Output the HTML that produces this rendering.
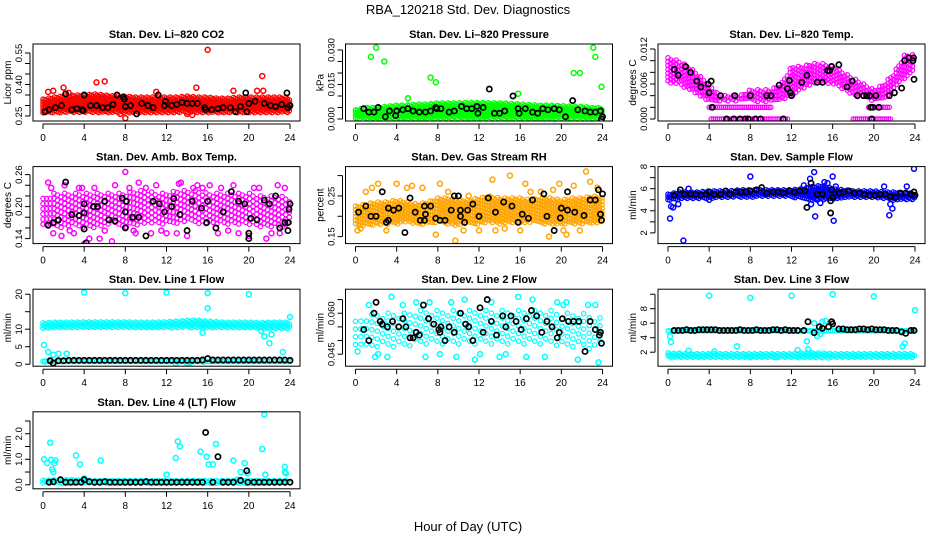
<!DOCTYPE html>
<html><head><meta charset="utf-8"><style>
html,body{margin:0;padding:0;background:#fff}
svg{display:block;font-family:"Liberation Sans",Arial,sans-serif}
</style></head><body>
<svg id="c" width="936" height="540" viewBox="0 0 936 540">
<rect width="936" height="540" fill="#fff"/>
<text x="468" y="14" text-anchor="middle" font-size="13">RBA_120218  Std. Dev. Diagnostics</text>
<text x="468" y="531" text-anchor="middle" font-size="13">Hour of Day (UTC)</text>
</svg>
<script>
// ---------- data ----------
const bandHours=[0,1,2,3,4,5,6,7,8,9,10,11,12,13,14,15,16,17,18,19,20,21,22,23,24];
const xTicks=[0,4,8,12,16,20,24];

const co2Lo=[0.265,0.265,0.265,0.265,0.265,0.265,0.265,0.265,0.265,0.265,0.265,0.265,0.265,0.265,0.265,0.265,0.265,0.265,0.265,0.265,0.265,0.265,0.265,0.265,0.265];
const co2Hi=[0.33,0.34,0.345,0.35,0.35,0.355,0.35,0.345,0.345,0.34,0.34,0.34,0.34,0.34,0.345,0.34,0.34,0.335,0.335,0.34,0.34,0.34,0.34,0.34,0.335];
const co2OutX=[16,21.3,5.2,6,2,7.5,8,14,14.9,20.8,21.4,14.5,0.5,1,11,18.5,2.5];
const co2OutY=[0.565,0.44,0.41,0.415,0.385,0.26,0.24,0.26,0.385,0.37,0.37,0.255,0.365,0.37,0.365,0.37,0.36];
const co2BlkX=[0.2,0.6,1.2,1.8,2.2,2.8,3.3,3.8,4,3.9,4.6,5.2,5.8,6.3,6.8,7.2,7.8,7.9,8,8.5,9.1,9.6,10.2,10.7,11.2,11.8,11.9,12.5,13,13.5,14,14.5,15,15.7,15.8,16.4,17,17.5,18.2,18.7,19.2,19.7,19.8,20,20.6,21.5,22.1,22.6,23.2,23.7,23.8,24];
const co2BlkY=[0.27,0.28,0.29,0.30,0.355,0.28,0.285,0.28,0.35,0.275,0.30,0.30,0.29,0.29,0.305,0.35,0.34,0.33,0.295,0.30,0.26,0.31,0.30,0.29,0.35,0.30,0.32,0.30,0.305,0.315,0.31,0.31,0.31,0.29,0.28,0.28,0.285,0.29,0.29,0.27,0.295,0.36,0.27,0.31,0.32,0.31,0.30,0.295,0.305,0.36,0.29,0.30];

const prsLo=[0,0,0,0,0,0,0,0,0,0,0,0,0,0,0,0,0,0,0,0,0,0,0,0,0];
const prsHi=[0.004,0.005,0.005,0.0055,0.006,0.006,0.0065,0.0065,0.007,0.007,0.007,0.0072,0.0072,0.007,0.007,0.0068,0.0065,0.0062,0.006,0.006,0.0058,0.0055,0.0055,0.005,0.005];
const prsOutX=[1.5,2,2.8,7.3,7.8,5.1,15.8,21.2,21.8,23.1,23.3,23.9,0.3,4.4,3,20.9];
const prsOutY=[0.027,0.031,0.025,0.018,0.016,0.009,0.011,0.020,0.020,0.031,0.027,0.014,0.003,0,0.0005,0];
const prsBlkX=[0.8,1.3,1.8,2.2,2.9,3.3,3.9,4,4.6,5.1,5.6,6.2,6.8,7.3,7.8,7.9,8.3,9.1,9.6,10.3,10.8,11.3,11.8,11.9,12.4,13,13.5,14,14.5,15.3,15.8,15.9,16.5,17.2,17.7,18.2,18.7,19.3,19.8,20.4,21.1,21.6,22.3,22.8,23.3,23.8,23.9,24];
const prsBlkY=[0.0045,0.003,0.003,0.005,0.001,0.0035,0.0015,0.0035,0.004,0.0045,0.0035,0.003,0.003,0.0035,0.005,0.0045,0.0045,0.003,0.0035,0.0055,0.0045,0.0045,0.0055,0.0025,0.005,0.013,0.0025,0.0025,0.0035,0.010,0.0045,0.0025,0.0045,0.003,0.0025,0.0045,0.004,0.0045,0.004,0.001,0.008,0.004,0.0035,0.003,0.003,0.0035,0,0.001];

const tmpLo=[0.006,0.006,0.005,0.004,0.003,0.003,0.003,0.003,0.003,0.003,0.003,0.003,0.004,0.005,0.006,0.006,0.006,0.005,0.004,0.004,0.003,0.003,0.005,0.007,0.008];
const tmpHi=[0.0105,0.010,0.009,0.0075,0.006,0.004,0.004,0.004,0.005,0.005,0.005,0.006,0.009,0.009,0.0095,0.0095,0.009,0.008,0.007,0.006,0.005,0.006,0.008,0.011,0.011];
const tmpRowX0=[4.2,4,18,19.5];
const tmpRowX1=[11.6,10,21.6,21.6];
const tmpRowY=[0,0.002,0,0.002];
const tmpBlkX=[0.6,1,1.7,2.2,2.8,3.2,3.9,4,4.2,4.3,5.1,5.7,6.4,6.5,7,7.5,7.8,8,8.5,9,9.6,10,10.8,11.2,11.6,11.8,11.9,12,13,13.5,14.5,15,15.5,15.7,15.9,16.6,17.4,17.9,18.4,19,19.3,19.6,19.7,19.8,19.9,20.2,20.5,21.5,22,22.7,23,23.4,23.8,23.9,23.85];
const tmpBlkY=[0.0085,0.0075,0.009,0.008,0.0065,0.0055,0.006,0.0045,0.0065,0.002,0.004,0,0,0.004,0,0,0,0.004,0,0,0.004,0.004,0.0058,0,0.0052,0.0066,0.0045,0.004,0.0063,0.0075,0.0063,0.0063,0.0083,0.0083,0.009,0.0093,0.0055,0.0065,0.004,0.004,0.004,0.004,0.002,0,0.002,0.004,0.002,0.004,0.0045,0.0053,0.010,0.0105,0.010,0.0068,0.0105];

const ambLo=[0.16,0.16,0.16,0.165,0.16,0.16,0.165,0.165,0.16,0.165,0.165,0.165,0.165,0.165,0.17,0.165,0.165,0.165,0.165,0.165,0.165,0.16,0.16,0.16,0.165];
const ambHi=[0.215,0.225,0.225,0.225,0.225,0.225,0.225,0.225,0.225,0.23,0.23,0.225,0.225,0.23,0.23,0.23,0.225,0.225,0.225,0.225,0.225,0.22,0.22,0.22,0.215];
const ambOutX=[0.5,2.1,3.8,4,4.5,5.5,8,8.4,7.7,9.3,10.5,13.2,13.4,14.6,17.3,20,21.7,22.8,3,1.8,6.7,16.2,18.5,1,3.5,6,7,9,11,12,14,15,17,19,21,23,0.8,2.6,5,8.8,10,11.5,13,15.5,18,20.5,22.2,23.5];
const ambOutY=[0.245,0.24,0.235,0.13,0.14,0.14,0.265,0.235,0.125,0.245,0.15,0.243,0.245,0.235,0.235,0.145,0.14,0.24,0.15,0.145,0.135,0.24,0.24,0.15,0.235,0.155,0.24,0.15,0.24,0.15,0.145,0.24,0.15,0.15,0.235,0.15,0.235,0.155,0.235,0.155,0.235,0.155,0.15,0.235,0.155,0.235,0.15,0.235];
const ambBlkX=[0.5,1,1.5,2.2,2.8,3.5,4,4,4,4.2,4.9,5.3,6,6.4,7,7.7,8.1,8,8,8.7,9.3,10,10.7,11.3,11.8,12.5,12.7,13.3,14,14.5,15.4,15.9,16,16.8,17.5,18.3,19,19.6,20.2,20,20,20.8,21.5,22,22.6,23,23.5,23.9,24,23.8,23.8];
const ambBlkY=[0.165,0.17,0.175,0.246,0.185,0.183,0.158,0.188,0.205,0.132,0.20,0.200,0.21,0.175,0.173,0.216,0.21,0.16,0.19,0.18,0.18,0.145,0.21,0.205,0.19,0.20,0.215,0.185,0.155,0.21,0.197,0.17,0.21,0.16,0.19,0.228,0.21,0.205,0.178,0.14,0.15,0.175,0.212,0.205,0.22,0.16,0.17,0.195,0.205,0.17,0.155];

const rhLo=[0.18,0.175,0.18,0.18,0.18,0.185,0.18,0.18,0.185,0.18,0.175,0.18,0.18,0.185,0.18,0.185,0.18,0.185,0.18,0.18,0.18,0.18,0.18,0.18,0.185];
const rhHi=[0.225,0.23,0.235,0.235,0.24,0.235,0.23,0.235,0.245,0.245,0.24,0.24,0.245,0.25,0.245,0.245,0.245,0.24,0.245,0.245,0.24,0.245,0.245,0.25,0.245];
const rhOutX=[1.6,2.2,4,5,5.5,8.2,13.3,15,16.5,19.2,19.8,21.2,22.4,22.8,7.8,9.7,13.6,18.8,20.5,23.5,4.5,11,0.5,3,6.5,9,12,14.5,17,20.2,1,10.5,16,18,21.8,0.2];
const rhOutY=[0.27,0.28,0.28,0.27,0.275,0.28,0.29,0.30,0.28,0.265,0.28,0.275,0.31,0.285,0.155,0.14,0.165,0.15,0.155,0.27,0.21,0.25,0.17,0.165,0.27,0.26,0.165,0.17,0.26,0.165,0.26,0.165,0.165,0.26,0.165,0.165];
const rhBlkX=[0.3,1,1.5,2,2.6,3,3.2,3.2,3.7,4.2,4.8,5.3,5.8,6.3,6.7,6.7,6.8,7.3,7.8,8.2,8.7,9.3,9.6,10,10.2,10.2,10.6,10.9,11.4,12,12.9,13.6,14.4,15.2,15.8,16.2,16.8,17.2,18.3,18.6,19.3,19.9,20,20.6,20.6,21.3,22.2,22.8,23.3,23.6,23.8,23.9,24];
const rhBlkY=[0.21,0.225,0.20,0.20,0.26,0.185,0.22,0.19,0.215,0.22,0.16,0.245,0.21,0.19,0.225,0.19,0.205,0.225,0.195,0.19,0.19,0.215,0.25,0.25,0.215,0.20,0.185,0.215,0.23,0.20,0.245,0.21,0.235,0.225,0.185,0.205,0.195,0.24,0.255,0.200,0.165,0.196,0.22,0.215,0.26,0.21,0.202,0.240,0.240,0.265,0.205,0.19,0.255];

const smpLo=[4.9,5.0,5.1,5.1,5.1,5.2,5.2,5.2,5.2,5.3,5.3,5.3,5.2,5.1,4.9,5.0,5.0,5.2,5.2,5.2,5.2,5.1,4.9,5.0,5.0];
const smpHi=[5.5,5.7,5.7,5.7,5.8,5.8,5.8,5.9,5.9,5.9,5.9,5.9,5.9,6.0,6.2,6.3,6.0,5.9,5.8,5.8,5.8,5.7,5.7,5.6,5.6];
const smpOutX=[0.2,0.3,0.5,1.5,2,8,13.2,13.8,14.2,14.3,14.8,15.2,15.5,16,16.1,16.3,21,21.5,21.8,23.2,23.9,4,13.9,14.5,21.6,1];
const smpOutY=[3.3,4.4,4.3,1.3,6.0,7.1,6.3,6.9,7.5,3.5,4.7,6.6,6.5,7.1,3.1,6.2,6.2,3.6,4.2,6.2,7.8,5.0,4.6,5.0,4.6,4.6];
const smpBlkX=[0.6,1.2,1.6,2.2,2.7,3.2,3.7,4,4.5,5.1,5.6,6,6.6,7.1,7.6,8,8.6,9.1,9.6,10.2,10.7,11.2,11.8,12.3,12.8,13.3,13.5,13.9,14.5,15,15.8,15.8,15.9,16,16.6,17.1,17.6,18.1,18.6,19.1,19.6,20.1,20.6,21.1,21.6,22.1,22.6,23.1,23.6,23.9,24];
const smpBlkY=[5.4,5.9,5.5,5.5,5.5,5.4,5.5,5.7,5.5,5.5,5.8,5.5,5.7,5.7,5.7,5.8,5.9,6.1,5.6,5.7,5.7,5.6,5.8,5.7,5.8,5.8,4.3,6.5,5.5,5.5,3.8,4.9,5.9,5.2,5.6,5.7,5.8,5.6,5.6,5.5,5.4,5.4,5.5,5.5,5.3,5.2,5.6,5.6,5.5,5.7,5.4];

const l1Lo=[10,10.2,10.3,10.3,10.3,10.3,10.3,10.3,10.3,10.3,10.3,10.3,10.3,10.3,10.4,10.4,10.3,10.3,10.3,10.2,10.2,10.1,10,10,10];
const l1Hi=[11.8,12,12,12,12.1,12.1,12.1,12.1,12.1,12,12,12,12.1,12.3,12.5,12.6,12.3,12.1,12,12,12,11.9,12,12,12];
const l1RowX0=[0];
const l1RowX1=[24];
const l1RowY=[0.8];
const l1OutX=[4,8,12,16,20,16,15.5,0.1,0.5,1,1.5,2.3,21.5,22,23.3,24,0.2,12.9,14,14.3,15.6,21.2,22.2];
const l1OutY=[20.5,20.3,20.5,20.3,20,16,9,5.5,3.5,2.7,3,3,8,6,3.5,13.5,0.8,0.2,0.3,0.5,0.8,9.5,8.5];
const l1BlkX=[0.7,1,1.5,2,2.5,3,3.5,4,4.5,5,5.5,6,6.5,7,7.5,8,8.5,9,9.5,10,10.5,11,11.5,12,12.5,13,13.5,14,14.5,15,15.5,16,16.5,17,17.5,18,18.5,19,19.5,20,20.5,21,21.5,22,22.5,23,23.5,24];
const l1BlkY=[1,0.3,1,1,1.1,1.1,1.1,1.1,1.1,1.1,1.1,1.1,1.1,1.1,1.1,1.1,1.1,1.1,1.1,1.1,1.1,1.1,1.1,1.1,1.1,1.1,1.1,1.1,1.1,1.1,1.2,1.6,1.2,1.2,1.2,1.2,1.2,1.2,1.2,1.2,1.2,1.2,1.2,1.2,1.2,1.2,1.2,1.1];

const l2Lo=[0.048,0.047,0.047,0.047,0.047,0.048,0.048,0.048,0.048,0.048,0.048,0.048,0.048,0.048,0.048,0.048,0.048,0.048,0.048,0.048,0.047,0.047,0.047,0.047,0.048];
const l2Hi=[0.057,0.059,0.060,0.060,0.060,0.060,0.061,0.061,0.061,0.061,0.061,0.061,0.061,0.061,0.061,0.061,0.061,0.061,0.061,0.061,0.060,0.060,0.060,0.059,0.058];
const l2OutX=[0.2,1.3,2.2,3.5,4.6,5.9,7.2,8.2,9.3,10.6,11.6,13.2,14.6,15.8,17.2,18.4,19.6,20.5,21.6,22.6,23.6,3.1,6.8,12.1,16.6,20.2,23.3,1.9,9.8,14];
const l2OutY=[0.046,0.063,0.045,0.066,0.063,0.064,0.064,0.045,0.064,0.065,0.043,0.064,0.045,0.066,0.065,0.044,0.064,0.064,0.043,0.063,0.042,0.044,0.044,0.045,0.044,0.063,0.063,0.044,0.044,0.044];
const l2BlkX=[0.8,1.3,1.8,2,2.4,2.6,3.1,3.6,4.2,4.6,4.9,5.3,5.6,5.9,6.2,6.6,7.1,7.6,8.1,8.2,8.3,8.7,9.1,9.6,10.2,10.7,11,11.4,12.1,12.4,12.8,13.2,13.7,14.3,14.6,15.1,15.6,16.1,16.6,17.1,17.6,18.1,18.6,19.1,19.6,19.8,20.1,20.7,21.2,21.7,22.3,22.8,23.3,23.7,23.8,23.9];
const l2BlkY=[0.054,0.050,0.060,0.064,0.057,0.056,0.055,0.057,0.055,0.058,0.055,0.051,0.051,0.053,0.052,0.063,0.058,0.056,0.054,0.053,0.055,0.050,0.055,0.053,0.060,0.056,0.055,0.050,0.062,0.053,0.065,0.057,0.052,0.059,0.055,0.059,0.057,0.054,0.058,0.061,0.059,0.053,0.057,0.055,0.051,0.053,0.058,0.057,0.057,0.057,0.046,0.057,0.054,0.052,0.053,0.049];

const l3Lo=[1.2,1.2,1.2,1.2,1.2,1.2,1.2,1.2,1.2,1.2,1.2,1.2,1.2,1.2,1.2,1.2,1.2,1.2,1.2,1.2,1.2,1.2,1.2,1.2,1.2];
const l3Hi=[1.9,1.8,1.8,1.8,1.8,1.8,1.8,1.8,1.8,1.8,1.8,1.8,1.8,1.9,1.9,1.9,1.8,1.8,1.8,1.8,1.8,1.8,1.8,1.8,1.8];
const l3RowX0=[0];
const l3RowX1=[24];
const l3RowY=[4.95];
const l3OutX=[4,8,12,16,20,24,0.3,1.1,4.5,6.7,10.5,12.6,13.5,13.6,14.2,14.5,15,22.8,23,2,8,0.2,15.3,14.8];
const l3OutY=[9.8,9.5,9.8,10,9.7,7.8,3.4,1.8,2.1,2.8,1.3,2.3,3.5,2.4,6,4.2,6.2,2.8,3.2,2.2,1.3,4.2,6.3,4.5];
const l3BlkX=[0.6,1,1.4,1.8,2.2,2.6,3,3.4,3.8,4.2,4.6,5,5.4,5.8,6.2,6.6,7,7.4,7.8,8.2,8.6,9,9.4,9.8,10.2,10.6,11,11.4,11.8,12.2,12.6,13.2,13.6,14.2,14.7,15,15.6,15.9,16,16.6,17,17.4,17.8,18.2,18.6,19,19.4,19.8,20.2,20.6,21,21.4,21.8,22.2,22.7,23.1,23.6,23.9];
const l3BlkY=[5,5,5,5.1,5,5,5.1,5.1,5.1,5.1,5.1,5,5,5,5,5,5.1,5,5,5,5.1,5,5,5,5.1,5.1,5,5.1,5,5,5,5,6.2,4.7,5.5,5.3,5.5,6.2,5.9,5.2,5.2,5.1,5.1,5.1,5.2,5.2,5.1,5.2,5.1,5.1,5.1,5,5,5,4.8,4.6,5,5];

const l4Lo=[0.05,0.05,0.05,0.05,0.05,0.05,0.05,0.05,0.05,0.05,0.05,0.05,0.05,0.05,0.05,0.05,0.05,0.05,0.05,0.05,0.05,0.05,0.05,0.05,0.05];
const l4Hi=[0.18,0.18,0.2,0.2,0.18,0.17,0.17,0.17,0.17,0.17,0.17,0.17,0.17,0.17,0.17,0.17,0.17,0.17,0.17,0.17,0.17,0.17,0.17,0.17,0.17];
const l4OutX=[0.1,0.4,0.7,0.8,0.9,1,1.1,1.2,3.2,3.6,4,5.6,12,12.9,13.1,13.3,15.3,15.9,16.1,16.5,16.8,18.5,19.2,19.6,19.9,21.3,21.5,21.6,23.5,23.5,23.6,18.9];
const l4OutY=[1.0,0.85,1.65,0.98,0.6,0.5,0.85,0.95,1.15,0.8,0.25,0.95,0.4,1.05,1.7,1.5,1.3,1.1,0.8,0.8,1.6,0.95,0.5,0.85,0.45,1.4,2.75,0.4,0.7,0.5,0.45,0.2];
const l4BlkX=[0.6,1,1.7,2.2,2.7,3.2,3.7,4,4.5,5,5.5,6,6.5,7,7.5,8,8.5,9,9.5,10,10.5,11,11.5,12,12.5,13,13.5,14,14.5,15,15.5,15.8,16.5,17,17.5,18,18.5,19.2,19.8,19.9,20.5,21,21.5,22,22.5,23,23.5,24];
const l4BlkY=[0.1,0.12,0.2,0.1,0.1,0.1,0.1,0.2,0.12,0.1,0.1,0.12,0.1,0.1,0.1,0.1,0.1,0.1,0.1,0.12,0.1,0.1,0.1,0.1,0.1,0.1,0.1,0.1,0.1,0.1,0.1,2.05,0.1,1.1,0.1,0.1,0.1,0.17,0.55,0.1,0.1,0.1,0.1,0.1,0.1,0.1,0.1,0.1];

// ---------- panel configuration ----------
const panels=[
 {name:'co2',title:'Stan. Dev. Li\u2013820 CO2',ylab:'Licor ppm',col:0,row:0,ymin:0.2262,ymax:0.5929,yt:[0.25,0.30,0.35,0.40,0.45,0.50,0.55],yl:['0.25','','','0.40','','','0.55'],color:'#ff0000',lo:co2Lo,hi:co2Hi,ox:co2OutX,oy:co2OutY,bx:co2BlkX,by:co2BlkY,sparse:0.85},
 {name:'pressure',title:'Stan. Dev. Li\u2013820 Pressure',ylab:'kPa',col:1,row:0,ymin:-0.00087,ymax:0.0326,yt:[0,0.005,0.010,0.015,0.020,0.025,0.030],yl:['0.000','','','0.015','','','0.030'],color:'#00ff00',lo:prsLo,hi:prsHi,ox:prsOutX,oy:prsOutY,bx:prsBlkX,by:prsBlkY,sparse:0.85},
 {name:'temp',title:'Stan. Dev. Li\u2013820 Temp.',ylab:'degrees C',col:2,row:0,ymin:-0.000343,ymax:0.01286,yt:[0,0.002,0.004,0.006,0.008,0.010,0.012],yl:['0.000','','','0.006','','','0.012'],color:'#ff00ff',lo:tmpLo,hi:tmpHi,rx0:tmpRowX0,rx1:tmpRowX1,ry:tmpRowY,ox:[],oy:[],bx:tmpBlkX,by:tmpBlkY,sparse:1.2},
 {name:'amb-box-temp',title:'Stan. Dev. Amb. Box Temp.',ylab:'degrees C',col:0,row:1,ymin:0.1306,ymax:0.275,yt:[0.14,0.16,0.18,0.20,0.22,0.24,0.26],yl:['0.14','','','0.20','','','0.26'],color:'#ff00ff',lo:ambLo,hi:ambHi,ox:ambOutX,oy:ambOutY,bx:ambBlkX,by:ambBlkY,sparse:1.6},
 {name:'gas-stream-rh',title:'Stan. Dev. Gas Stream RH',ylab:'percent',col:1,row:1,ymin:0.1328,ymax:0.3221,yt:[0.15,0.20,0.25,0.30],yl:['0.15','','0.25',''],color:'#ffa500',lo:rhLo,hi:rhHi,ox:rhOutX,oy:rhOutY,bx:rhBlkX,by:rhBlkY,sparse:1.1},
 {name:'sample-flow',title:'Stan. Dev. Sample Flow',ylab:'ml/min',col:2,row:1,ymin:1.03,ymax:8.0,yt:[2,3,4,5,6,7,8],yl:['2','','4','','6','','8'],color:'#0000ff',lo:smpLo,hi:smpHi,ox:smpOutX,oy:smpOutY,bx:smpBlkX,by:smpBlkY,sparse:0.85},
 {name:'line1-flow',title:'Stan. Dev. Line 1 Flow',ylab:'ml/min',col:0,row:2,ymin:-0.57,ymax:21.43,yt:[0,5,10,15,20],yl:['0','5','10','','20'],color:'#00ffff',lo:l1Lo,hi:l1Hi,rx0:l1RowX0,rx1:l1RowX1,ry:l1RowY,ox:l1OutX,oy:l1OutY,bx:l1BlkX,by:l1BlkY,sparse:0.85},
 {name:'line2-flow',title:'Stan. Dev. Line 2 Flow',ylab:'ml/min',col:1,row:2,ymin:0.0406,ymax:0.0688,yt:[0.045,0.050,0.055,0.060,0.065],yl:['0.045','','','0.060',''],color:'#00ffff',lo:l2Lo,hi:l2Hi,ox:l2OutX,oy:l2OutY,bx:l2BlkX,by:l2BlkY,sparse:2.4},
 {name:'line3-flow',title:'Stan. Dev. Line 3 Flow',ylab:'ml/min',col:2,row:2,ymin:0.069,ymax:10.69,yt:[2,4,6,8,10],yl:['2','4','6','8',''],color:'#00ffff',lo:l3Lo,hi:l3Hi,rx0:l3RowX0,rx1:l3RowX1,ry:l3RowY,ox:l3OutX,oy:l3OutY,bx:l3BlkX,by:l3BlkY,sparse:0.85},
 {name:'line4-flow',title:'Stan. Dev. Line 4 (LT) Flow',ylab:'ml/min',col:0,row:3,ymin:-0.157,ymax:2.86,yt:[0,0.5,1,1.5,2,2.5],yl:['0.0','','1.0','','2.0',''],color:'#00ffff',lo:l4Lo,hi:l4Hi,ox:l4OutX,oy:l4OutY,bx:l4BlkX,by:l4BlkY,sparse:0.85}
];

// ---------- rendering ----------
const NS='http://www.w3.org/2000/svg';
const svg=document.getElementById('c');
function mk(tag,attrs,parent){const e=document.createElementNS(NS,tag);for(const k in attrs)e.setAttribute(k,attrs[k]);(parent||svg).appendChild(e);return e;}
const BOXW=267,BOXH=77,XMIN=-0.97,XMAX=24.97;
function interp(arr,h){const i=Math.max(0,Math.min(23,Math.floor(h)));const f=h-i;return arr[i]+(arr[i+1]-arr[i])*f;}

panels.forEach(p=>{
  const L=33+p.col*312.5, T=44+p.row*122.6;
  const xs=h=>L+(h-XMIN)/(XMAX-XMIN)*BOXW;
  const ys=v=>T+BOXH-(v-p.ymin)/(p.ymax-p.ymin)*BOXH;
  const g=mk('g',{});
  
  
  const clip=mk('clipPath',{id:'clip-'+p.name},g);
  mk('rect',{x:L,y:T,width:BOXW,height:BOXH},clip);
  const plot=mk('g',{'clip-path':'url(#clip-'+p.name+')'},g);
  
  
  const col=p.color, sp=p.sparse||1;
  const cloud=mk('g',{fill:'none',stroke:col,'stroke-width':1.2},plot);
  
  
  let k=0;
  for(let h=0;h<=24.001;h+=0.22*sp,k++){
    const y1=ys(interp(p.hi,h)), y0=ys(interp(p.lo,h));
    for(let y=y1+(k%3)*1.1*sp;y<=y0;y+=3.2*sp){
      mk('circle',{cx:xs(h).toFixed(1),cy:y.toFixed(1),r:2.2},cloud);
    }
  }
  if(p.rx0){
    for(let i=0;i<p.rx0.length;i++){
      for(let h=p.rx0[i];h<=p.rx1[i];h+=0.2){
        mk('circle',{cx:xs(h).toFixed(1),cy:ys(p.ry[i]).toFixed(1),r:2.2},cloud);
      }
    }
  }
  for(let i=0;i<p.ox.length;i++){
    const c=mk('circle',{cx:xs(p.ox[i]),cy:ys(p.oy[i]),r:2.5,fill:'none',stroke:col,'stroke-width':1.5},plot);
    
    
  }
  for(let i=0;i<p.bx.length;i++){
    const c=mk('circle',{cx:xs(p.bx[i]),cy:ys(p.by[i]),r:2.6,fill:'none',stroke:'#000','stroke-width':1.7},plot);
    
    
  }
  const box=mk('rect',{x:L,y:T,width:BOXW,height:BOXH,fill:'none',stroke:'#000','stroke-width':1},g);
  
  
  const t=mk('text',{x:L+BOXW/2,y:T-6,'text-anchor':'middle','font-size':11,'font-weight':'bold'},g);
  t.textContent=p.title;
  
  
  const xa=mk('g',{stroke:'#000','stroke-width':1},g);
  
  
  mk('line',{x1:xs(xTicks[0]),x2:xs(xTicks[xTicks.length-1]),y1:T+BOXH+3,y2:T+BOXH+3},xa);
  xTicks.forEach(v=>{
    mk('line',{x1:xs(v),x2:xs(v),y1:T+BOXH+3,y2:T+BOXH+8},xa);
    const tl=mk('text',{x:xs(v),y:T+BOXH+20,'text-anchor':'middle','font-size':10,stroke:'none'},xa);
    tl.textContent=v;
    
    
  });
  const ya=mk('g',{stroke:'#000','stroke-width':1},g);
  
  
  const ax=L-3;
  mk('line',{x1:ax,x2:ax,y1:ys(p.yt[0]),y2:ys(p.yt[p.yt.length-1])},ya);
  p.yt.forEach((v,i)=>{
    mk('line',{x1:ax,x2:ax-5,y1:ys(v),y2:ys(v)},ya);
    if(p.yl[i]){
      const tl=mk('text',{x:0,y:0,'text-anchor':'middle','font-size':9.5,stroke:'none',transform:'translate('+(ax-8)+','+ys(v)+') rotate(-90)'},ya);
      tl.textContent=p.yl[i];
      
      
    }
  });
  const yl=mk('text',{x:0,y:0,'text-anchor':'middle','font-size':10,transform:'translate('+(L-22)+','+(T+BOXH/2)+') rotate(-90)'},g);
  yl.textContent=p.ylab;
  
  
});
</script>
</body></html>
